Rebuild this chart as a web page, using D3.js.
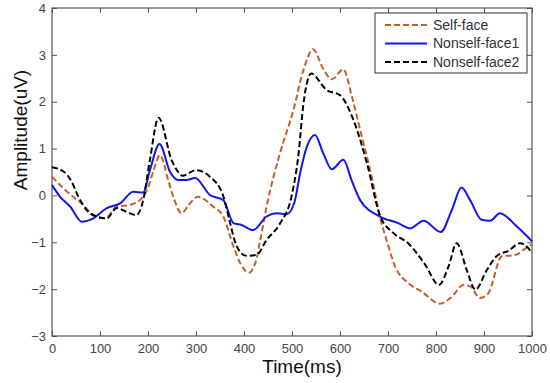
<!DOCTYPE html>
<html>
<head>
<meta charset="utf-8">
<script src="https://cdn.jsdelivr.net/npm/d3@7"></script>
<style>
  body { margin: 0; background: #fff; }
  .chart text { font-family: Arial, "Liberation Sans", sans-serif; }
</style>
</head>
<body>
<div class="chart"></div>
<script>
var margin = { top: 8, right: 18, bottom: 47, left: 52 }

var width = 550 - margin.left - margin.right;
var height = 383 - margin.top - margin.bottom;

// data: [time ms, amplitude uV]
var selfFace = [
  [0, 0.40], [24, 0.15], [44, -0.03], [62, -0.17], [86, -0.42], [110, -0.49], [135, -0.24],
  [162, -0.20], [183, -0.10], [201, 0.19], [212, 0.55], [225, 0.86], [242, 0.33], [255, -0.10],
  [270, -0.38], [285, -0.20], [304, -0.03], [336, -0.24], [357, -0.45], [378, -1.09], [395, -1.50],
  [410, -1.65], [425, -1.40], [433, -1.00], [447, -0.24], [475, 0.90], [503, 1.82], [524, 2.68],
  [544, 3.12], [565, 2.70], [583, 2.48], [607, 2.69], [625, 2.10], [642, 1.40], [669, 0.26],
  [683, -0.45], [697, -0.95], [715, -1.52], [742, -1.87], [770, -2.05], [808, -2.31], [833, -2.16],
  [857, -1.91], [871, -1.94], [892, -2.19], [909, -2.09], [937, -1.30], [965, -1.27], [992, -1.09],
  [1000, -1.05]
];

var nonself1 = [
  [0, 0.22], [17, -0.03], [38, -0.24], [62, -0.56], [86, -0.49], [114, -0.27], [142, -0.17],
  [169, 0.08], [190, 0.06], [204, 0.54], [224, 1.10], [246, 0.50], [263, 0.33], [280, 0.33],
  [298, 0.37], [329, 0.01], [357, -0.10], [378, -0.59], [395, -0.63], [419, -0.74], [447, -0.45],
  [468, -0.38], [489, -0.40], [505, -0.15], [517, 0.48], [531, 1.04], [548, 1.29], [565, 0.90],
  [583, 0.56], [607, 0.76], [625, 0.30], [642, -0.10], [683, -0.45], [721, -0.59], [746, -0.70],
  [774, -0.54], [810, -0.78], [833, -0.31], [853, 0.17], [871, -0.10], [895, -0.52], [913, -0.54],
  [933, -0.38], [968, -0.66], [1000, -0.98]
];

var nonself2 = [
  [0, 0.60], [24, 0.51], [41, 0.29], [55, -0.03], [72, -0.31], [93, -0.45], [114, -0.49],
  [135, -0.27], [155, -0.35], [176, -0.42], [190, -0.10], [204, 0.76], [222, 1.66], [249, 0.76],
  [263, 0.50], [272, 0.42], [300, 0.54], [329, 0.40], [357, -0.02], [371, -0.59], [385, -1.09],
  [405, -1.29], [426, -1.27], [447, -0.95], [475, -0.60], [499, -0.02], [513, 0.83], [524, 1.97],
  [540, 2.60], [572, 2.25], [600, 2.14], [628, 1.61], [656, 0.69], [683, -0.42], [711, -0.80],
  [742, -1.02], [777, -1.47], [806, -1.91], [826, -1.52], [843, -1.02], [864, -1.59], [882, -2.01],
  [906, -1.59], [926, -1.30], [951, -1.18], [975, -1.02], [989, -1.09], [1000, -1.23]
];

var xTicks = [0, 100, 200, 300, 400, 500, 600, 700, 800, 900, 1000];
var yTicks = [-3, -2, -1, 0, 1, 2, 3, 4];

var series = [
  { name: 'Self-face', values: selfFace, color: '#c0602a', dash: '6,3' },
  { name: 'Nonself-face1', values: nonself1, color: '#1414f0', dash: null },
  { name: 'Nonself-face2', values: nonself2, color: '#000000', dash: '6,3' }
];

var svg = d3.select('.chart')
  .append('svg')
    .attr('width', width + margin.left + margin.right)
    .attr('height', height + margin.top + margin.bottom)
  .append('g')
    .attr('transform', `translate(${margin.left}, ${margin.top})`);

var xScale = d3.scaleLinear()
  .domain([0, 1000])
  .range([0, width]);

var yScale = d3.scaleLinear()
  .domain([-3, 4])
  .range([height, 0]);

// matlab style: ticks point inward, on all four sides
function styleAxis(g) {
  g.select('.domain').remove();
  g.selectAll('line').attr('stroke', '#555');
  g.selectAll('text').attr('fill', '#444').style('font-size', '13px');
}

svg.append('g')
    .attr('transform', `translate(0, ${height})`)
  .call(d3.axisBottom(xScale).tickValues(xTicks).tickSize(-5).tickPadding(8).tickFormat(d3.format('d')))
  .call(styleAxis);

svg.append('g')
  .call(d3.axisLeft(yScale).tickValues(yTicks).tickSize(-5).tickPadding(6).tickFormat(d3.format('d')))
  .call(styleAxis);

svg.append('g')
  .call(d3.axisTop(xScale).tickValues(xTicks).tickSize(-5).tickFormat(''))
  .call(styleAxis);

svg.append('g')
    .attr('transform', `translate(${width}, 0)`)
  .call(d3.axisRight(yScale).tickValues(yTicks).tickSize(-5).tickFormat(''))
  .call(styleAxis);

svg.append('rect')
  .attr('width', width)
  .attr('height', height)
  .attr('fill', 'none')
  .attr('stroke', '#555')
  .attr('stroke-width', 1.2);

var line = d3.line()
  .x(d => xScale(d[0]))
  .y(d => yScale(d[1]))
  .curve(d3.curveMonotoneX);

svg.selectAll('.series')
  .data(series)
  .enter()
  .append('path')
  .attr('class', 'series')
  .attr('d', d => line(d.values))
  .attr('fill', 'none')
  .attr('stroke', d => d.color)
  .attr('stroke-width', 2)
  .attr('stroke-dasharray', d => d.dash);

// legend
var legend = svg.append('g')
  .attr('transform', `translate(${width - 157}, 5)`);

legend.append('rect')
  .attr('width', 152)
  .attr('height', 60)
  .attr('fill', '#fff')
  .attr('stroke', '#333')
  .attr('stroke-width', 1);

var items = legend.selectAll('.item')
  .data(series)
  .enter()
  .append('g')
  .attr('transform', (d, i) => `translate(0, ${12 + i * 18.5})`);

items.append('line')
  .attr('x1', 10)
  .attr('x2', 52)
  .attr('stroke', d => d.color)
  .attr('stroke-width', 2)
  .attr('stroke-dasharray', d => d.dash);

items.append('text')
  .attr('x', 58)
  .attr('dy', '0.35em')
  .attr('fill', '#333')
  .style('font-size', '14px')
  .text(d => d.name);

// axis titles
svg.append('text')
  .attr('x', width / 2 + 10)
  .attr('y', height + 37)
  .attr('text-anchor', 'middle')
  .attr('fill', '#111')
  .style('font-size', '19px')
  .text('Time(ms)');

svg.append('text')
  .attr('transform', `translate(-25, ${122}) rotate(-90)`)
  .attr('text-anchor', 'middle')
  .attr('fill', '#111')
  .style('font-size', '19px')
  .text('Amplitude(uV)');
</script>
</body>
</html>
